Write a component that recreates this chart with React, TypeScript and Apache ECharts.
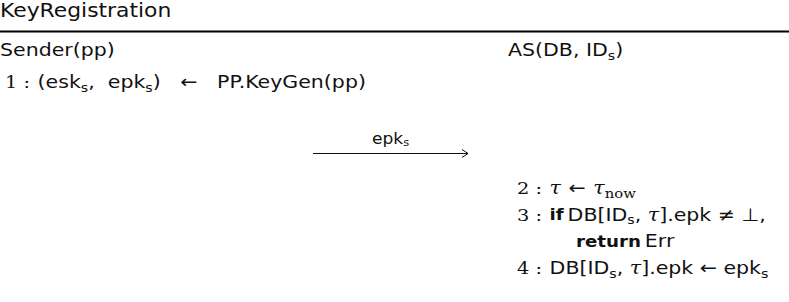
import React, { useEffect, useRef } from "react";
import * as echarts from "echarts";

// ---- content (protocol diagram) ----
const title = "KeyRegistration";
const partyLeft = "{t|Sender(pp)}";
const partyRight = "{t|AS(DB, ID}{sub|s}{t|)}";
const senderLines = [
  "{num|1 :}  {t|(esk}{sub|s}{t|,  epk}{sub|s}{t|)   ←   PP.KeyGen(pp)}",
];
const messageLabel = "{m|epk}{msub|s}";
const receiverLines = [
  "{num|2 :}  {it|τ}  {t|←}  {it|τ}{subr|now}",
  "{num|3 :}  {b|if} {t|DB[ID}{sub|s}{t|, }{it|τ}{t|].epk ≠ ⊥,}",
  "{b|return} {t|Err}",
  "{num|4 :}  {t|DB[ID}{sub|s}{t|, }{it|τ}{t|].epk ← epk}{sub|s}",
];
const receiverIndent = [0, 0, 1, 0];

const SANS = "DejaVu Sans";
const SERIF = "DejaVu Serif";
const FS = 18;
const SX = 1.14;

const rich: any = {
  t: { fontFamily: SANS, fontSize: FS, lineHeight: 24, fill: "#111" },
  b: { fontFamily: SANS, fontSize: 16, fontWeight: "bold", lineHeight: 24, fill: "#111" },
  num: { fontFamily: SERIF, fontSize: FS - 1, lineHeight: 24, fill: "#111" },
  it: { fontFamily: SERIF, fontSize: FS, fontStyle: "italic", lineHeight: 24, fill: "#111" },
  sub: { fontFamily: SANS, fontSize: 12.5, lineHeight: 12, verticalAlign: "bottom", fill: "#111" },
  subr: { fontFamily: SERIF, fontSize: 13, lineHeight: 12, verticalAlign: "bottom", fill: "#111" },
  m: { fontFamily: SANS, fontSize: 15, lineHeight: 18, fill: "#111" },
  msub: { fontFamily: SANS, fontSize: 10, lineHeight: 10, verticalAlign: "bottom", fill: "#111" },
};

export default function App() {
  const ref = useRef<HTMLDivElement>(null);
  useEffect(() => {
    if (!ref.current) return;
    const chart = echarts.init(ref.current, undefined, { renderer: "svg" });
    const elements: any[] = [];
    elements.push({
      type: "text",
      x: 0,
      y: 11,
      scaleX: 1.15,
      style: { text: title, fontFamily: SANS, fontSize: 19, fill: "#111", verticalAlign: "middle", align: "left" },
    });
    elements.push({
      type: "rect",
      shape: { x: 0, y: 30.5, width: 789, height: 2 },
      style: { fill: "#000" },
    });
    elements.push({
      type: "text",
      x: 0,
      y: 50,
      scaleX: SX,
      style: { text: partyLeft, rich, verticalAlign: "middle", align: "left" },
    });
    elements.push({
      type: "text",
      x: 508,
      y: 50,
      scaleX: SX,
      style: { text: partyRight, rich, verticalAlign: "middle", align: "left" },
    });
    senderLines.forEach((s, i) => {
      elements.push({
        type: "text",
        x: 5,
        y: 82 + i * 26.7,
        scaleX: SX,
        style: { text: s, rich, verticalAlign: "middle", align: "left" },
      });
    });
    // message arrow
    const ax1 = 313, ax2 = 468, ay = 153.5;
    elements.push({
      type: "line",
      shape: { x1: ax1, y1: ay, x2: ax2, y2: ay },
      style: { stroke: "#111", lineWidth: 1 },
    });
    elements.push({
      type: "polyline",
      shape: { points: [[ax2 - 6, ay - 4], [ax2, ay], [ax2 - 6, ay + 4]] },
      style: { stroke: "#111", lineWidth: 1, fill: null },
    });
    elements.push({
      type: "text",
      x: (ax1 + ax2) / 2,
      y: 139,
      scaleX: SX,
      style: { text: messageLabel, rich, verticalAlign: "middle", align: "center" },
    });
    receiverLines.forEach((s, i) => {
      elements.push({
        type: "text",
        x: 517 + receiverIndent[i] * 59,
        y: 188 + i * 26.7,
        scaleX: SX,
        style: { text: s, rich, verticalAlign: "middle", align: "left" },
      });
    });
    chart.setOption({
      animation: false,
      backgroundColor: "#fff",
      graphic: { elements },
    });
    return () => chart.dispose();
  }, []);
  return (
    <div
      ref={ref}
      style={{ position: "fixed", left: 0, top: 0, width: 789, height: 302 }}
    />
  );
}
